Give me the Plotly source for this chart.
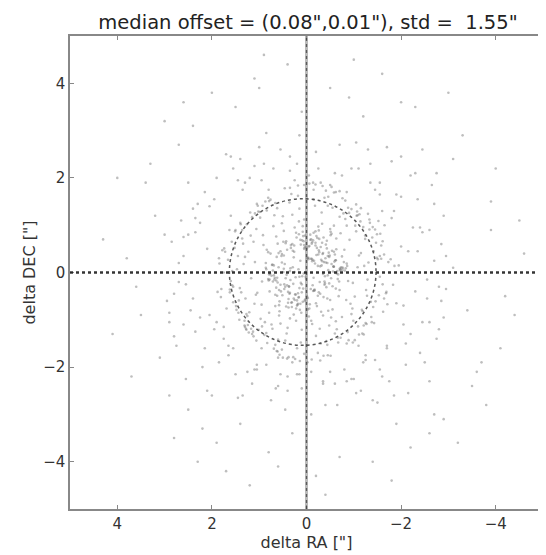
import plotly.graph_objects as go

# ---- data (read/estimated from the reference) ----
core_ra = [0.12,-0.35,0.48,-0.07,0.63,-0.52,0.21,-0.18,0.36,-0.71,
0.05,-0.42,0.77,-0.26,0.14,-0.61,0.44,-0.03,0.29,-0.88,
0.58,-0.15,0.02,-0.49,0.33,-0.22,0.69,-0.38,0.09,-0.56,
0.25,-0.11,0.81,-0.66,0.17,-0.31,0.52,-0.05,0.39,-0.75,
0.07,-0.45,0.62,-0.19,0.28,-0.57,0.13,-0.34,0.71,-0.09,
0.46,-0.27,0.03,-0.64,0.55,-0.13,0.22,-0.83,0.37,-0.41,
0.18,-0.02,0.67,-0.53,0.31,-0.24,0.84,-0.69,0.06,-0.36,
0.49,-0.16,0.26,-0.59,0.11,-0.47,0.74,-0.08,0.41,-0.29,
0.04,-0.72,0.57,-0.21,0.34,-0.51,0.15,-0.37,0.66,-0.12,
0.23,-0.63,0.43,-0.04,0.79,-0.44,0.08,-0.28,0.53,-0.77,
0.19,-0.33,0.61,-0.14,0.35,-0.54,0.01,-0.46,0.72,-0.23,
0.27,-0.68,0.47,-0.06,0.16,-0.39,0.86,-0.58,0.32,-0.17,
0.59,-0.43,0.1,-0.81,0.38,-0.25,0.64,-0.01,0.2,-0.62,
0.45,-0.32,0.03,-0.48,0.76,-0.2,0.3,-0.7,0.51,-0.1,
0.13,-0.55,0.68,-0.3,0.24,-0.4,0.42,-0.85,0.07,-0.19]
core_dec = [-0.22,0.41,0.08,-0.67,0.33,-0.12,0.74,0.19,-0.45,0.05,
0.58,-0.31,-0.03,0.47,-0.79,0.26,0.62,-0.54,0.11,-0.18,
-0.37,0.84,-0.09,0.36,0.52,-0.71,0.15,-0.26,0.68,0.02,
-0.58,0.29,0.43,-0.14,0.07,-0.83,0.21,0.55,-0.41,0.34,
0.77,-0.06,-0.49,0.63,-0.24,0.12,-0.66,0.39,0.04,-0.35,
0.18,0.71,-0.57,-0.02,0.45,0.27,-0.76,0.09,-0.29,0.59,
-0.44,0.31,-0.11,0.82,-0.63,0.14,0.48,-0.19,0.66,-0.52,
0.01,-0.38,0.57,0.23,-0.85,0.42,-0.07,0.69,-0.27,0.13,
0.53,0.06,-0.61,0.37,-0.16,0.79,-0.33,0.22,-0.47,0.64,
-0.1,0.49,-0.72,0.28,-0.04,-0.55,0.86,-0.2,0.35,0.1,
-0.68,0.24,0.61,-0.39,0.03,0.46,-0.13,-0.81,0.17,0.73,
0.32,-0.5,-0.25,0.56,0.81,-0.08,0.2,0.44,-0.64,-0.36,
0.11,0.67,-0.42,0.04,-0.74,0.38,-0.17,0.51,-0.59,0.26,
-0.3,0.15,0.78,-0.23,0.4,-0.65,0.6,0.08,-0.48,0.7,
0.25,-0.78,-0.15,0.54,-0.46,0.3,-0.05,0.19,-0.34,0.87]

core2_ra = [-0.04,0.27,-0.58,0.41,-0.13,0.66,-0.33,0.09,-0.79,0.52,
0.18,-0.46,0.35,-0.21,0.73,-0.62,0.02,-0.38,0.57,-0.09,
-0.27,0.44,-0.7,0.13,-0.5,0.85,-0.16,0.31,-0.43,0.61,
0.06,-0.86,0.48,-0.24,0.22,-0.55,0.78,-0.11,0.39,-0.65,
-0.19,0.54,-0.36,0.1,-0.74,0.29,-0.03,0.69,-0.48,0.16,
0.37,-0.14,0.62,-0.41,0.04,-0.6,0.25,-0.29,0.81,-0.08,
-0.53,0.2,-0.22,0.47,-0.67,0.12,-0.39,0.59,-0.01,0.34,
0.71,-0.31,0.08,-0.57,0.43,-0.17,0.26,-0.76,0.55,-0.06,
-0.45,0.15,-0.63,0.38,-0.12,0.8,-0.26,0.05,-0.51,0.64,
0.23,-0.72,0.33,-0.35,0.58,-0.02,0.17,-0.44,0.49,-0.15]
core2_dec = [0.31,-0.55,0.12,0.48,-0.27,-0.71,0.63,-0.08,0.22,0.39,
-0.66,0.05,-0.43,0.77,0.16,-0.34,0.54,-0.19,-0.82,0.29,
0.43,-0.12,-0.37,0.69,-0.58,0.07,0.25,-0.73,0.51,-0.21,
-0.02,0.14,0.36,-0.49,0.84,-0.29,-0.15,0.61,-0.64,0.03,
0.57,-0.4,0.74,-0.25,0.11,0.46,-0.78,-0.06,0.33,-0.52,
-0.3,0.68,-0.11,0.21,-0.6,0.38,0.01,-0.45,-0.14,0.8,
0.18,-0.7,0.52,-0.35,-0.04,0.59,-0.23,0.41,-0.5,0.09,
-0.19,0.27,-0.62,0.13,0.66,-0.38,0.44,0.06,-0.26,-0.76,
0.35,-0.09,0.72,-0.56,0.24,-0.17,-0.42,0.5,0.86,-0.32,
-0.47,0.1,0.58,-0.03,-0.69,0.3,-0.53,0.2,0.65,-0.11]

mid_ra = [1.12,-0.95,1.38,-1.24,0.88,-1.51,1.06,-0.82,1.45,-1.17,
0.3,-0.2,0.55,-0.45,1.29,-1.36,0.97,-1.05,1.6,-0.9,
-0.15,0.4,-0.6,0.7,1.18,-1.42,0.84,-1.28,1.52,-1.09,
0.12,-0.33,0.62,-0.75,1.33,-1.61,1.01,-0.93,1.21,-1.47,
0.25,-0.5,0.45,-0.1,1.41,-1.14,0.91,-1.31,1.66,-1.02,
-0.28,0.18,-0.72,0.58,1.07,-1.55,1.26,-0.87,1.49,-1.2,
0.05,-0.62,0.35,-0.38,1.15,-1.39,0.79,-1.07,1.57,-1.26,
0.68,-0.8,0.2,-0.05,1.34,-1.64,0.95,-0.99,1.24,-1.33,
-0.42,0.52,-0.25,0.85,1.09,-1.19,1.43,-0.91,1.02,-1.53,
0.15,-0.55,0.78,-0.66,1.27,-1.45,0.86,-1.11,1.62,-0.97,
0.42,-0.12,0.64,-0.85,1.19,-1.29,1.04,-1.41,1.36,-1.06,
-0.32,0.27,-0.48,0.74,1.47,-1.58,0.92,-0.84,1.13,-1.22,
0.08,-0.7,0.5,-0.3,1.31,-1.12,1.55,-1.37,0.89,-1.49,
0.6,-0.18,0.36,-0.58,1.1,-1.68,1.23,-1.03,1.4,-0.89,
-0.52,0.1,-0.35,0.66,1.28,-1.25,0.98,-1.56,1.17,-1.15,
0.22,-0.44,0.72,-0.78,1.5,-1.34,0.83,-0.98,1.3,-1.43,
0.48,-0.26,0.16,-0.64,1.05,-1.21,1.58,-1.08,0.94,-1.62]
mid_dec = [0.65,-0.88,-0.42,0.71,-1.05,0.28,0.92,1.13,0.35,-0.79,
1.22,-1.34,-1.08,1.41,-0.55,-0.62,-0.98,0.87,-0.18,1.26,
1.55,-1.17,-1.29,0.98,0.78,0.45,1.31,-0.49,0.52,-1.14,
-1.48,1.03,1.36,-0.94,0.18,-0.25,-1.21,-0.66,-0.84,0.63,
0.95,0.92,-1.44,-1.02,-0.33,1.08,0.58,0.21,0.27,-0.51,
-1.19,1.62,0.83,-0.91,-0.47,-0.09,1.02,-1.26,-0.71,0.96,
1.12,-1.03,-0.97,1.58,1.17,0.74,-0.85,1.29,0.03,-0.37,
1.21,0.48,-1.6,-0.93,0.61,0.38,-0.68,-1.02,-1.11,1.12,
-1.45,1.04,0.97,-1.28,0.22,-0.82,-0.59,0.69,1.29,-0.48,
1.35,1.37,-0.4,-1.38,-0.88,0.91,0.1,0.36,-0.42,-0.76,
-1.29,-1.09,0.76,0.99,1.27,-0.15,-0.43,-0.73,0.9,1.2,
1.27,-0.89,-1.12,-1.1,0.07,0.57,0.79,-0.58,-1.25,0.14,
0.98,1.18,1.19,-1.5,-1.02,1.23,-0.3,-0.94,-1.32,0.31,
-1.42,1.41,1.48,0.99,-0.66,-0.44,0.44,0.99,1.05,-1.43,
-0.95,-1.21,-0.91,1.47,-1.19,-1.07,1.16,0.82,-0.12,0.41,
-1.02,-1.53,-1.19,1.25,0.9,1.05,-1.49,-0.22,0.33,-1.07,
0.88,0.89,1.08,-1.2,1.45,-1.31,0.65,0.11,-0.19,-0.83]

mid2_ra = [1.25,-1.08,0.66,-1.55,1.72,-0.72,0.32,-1.33,1.48,-0.24,
-1.78,0.94,-0.46,1.36,-1.18,0.18,1.81,-0.88,0.52,-1.46,
1.03,-0.36,1.62,-1.69,0.81,-0.06,1.17,-1.24,0.41,-0.95,
-1.38,1.55,-0.58,0.99,-1.86,0.28,1.31,-0.76,1.74,-1.11,
0.61,-1.52,1.09,-0.14,1.44,-0.67,0.05,-1.73,0.76,-1.27,
1.69,-0.41,0.38,-1.02,1.22,-1.61,0.87,-0.29,1.57,-0.82,
-0.11,1.39,-1.4,0.69,-0.53,1.84,-1.15,0.24,-1.64,1.12,
0.46,-0.98,1.51,-1.83,0.14,-0.62,1.27,-1.21,0.93,-0.34,
1.78,-1.49,0.57,-0.19,1.06,-1.71,0.35,-1.05,1.63,-0.51,
-1.3,0.79,-0.85,1.42,-0.02,1.15,-1.58,0.63,-0.7,1.88]
mid2_dec = [-0.92,1.21,-1.53,0.35,0.44,-1.38,1.66,0.91,-0.79,-1.7,
0.28,-1.14,1.6,0.72,-1.29,1.84,-0.52,1.37,-1.63,-0.61,
1.41,-1.76,-0.36,-0.41,1.58,1.88,-1.19,0.78,-1.82,1.34,
-1.05,-0.63,1.69,1.28,0.14,-1.79,-1.12,1.57,0.51,-1.31,
-1.67,1.09,1.25,1.9,-0.85,-1.48,-1.72,0.22,1.54,-1.09,
-0.76,1.73,-1.79,-1.43,-1.27,0.66,1.5,-1.86,-0.27,1.52,
-1.84,1.02,0.96,-1.61,1.81,0.19,1.36,-1.83,-0.55,-1.35,
1.78,-1.48,0.87,-0.26,-1.87,1.7,-1.21,-1.12,1.41,1.83,
0.47,0.81,-1.74,1.86,-1.44,-0.67,1.79,1.44,0.9,-1.76,
1.24,1.51,-1.5,-1.0,-1.9,-1.3,0.29,-1.66,1.72,-0.41]

outer_ra = [2.1,-1.85,2.45,-2.3,1.3,-0.6,0.4,-1.2,2.7,-2.6,
1.75,-2.05,0.9,-0.2,1.6,-1.55,2.25,-2.8,0.1,-0.95,
2.55,-2.15,1.1,-1.7,0.55,-0.35,1.95,-2.45,2.85,-1.35,
1.4,-2.7,0.25,-1.05,2.35,-1.9,0.75,-0.5,1.85,-2.35,
2.95,-1.6,1.65,-2.9,0.15,-0.8,2.05,-2.2,1.2,-1.15,
2.3,-2.55,0.65,-0.1,1.5,-1.8,2.6,-2.95,0.35,-1.45,
1.9,-2.4,1.0,-0.7,2.8,-2.1,0.5,-1.3,2.15,-1.65,
2.65,-2.75,1.35,-0.4,1.75,-1.95,0.2,-1.0,2.4,-2.5,
1.15,-2.0,2.9,-1.4,0.8,-0.3,2.2,-2.65,1.55,-1.75,
2.0,-2.85,0.6,-1.55,1.45,-2.25,2.5,-1.1,0.05,-0.65,
2.75,-2.3,1.7,-1.25,0.3,-2.6,1.05,-0.85,2.35,-2.0,
1.8,-1.5,2.1,-2.45,0.95,-0.15,2.55,-1.85,1.3,-2.75,
0.45,-1.05,2.6,-2.15,1.6,-0.45,1.9,-2.9,0.85,-1.7]
outer_dec = [0.5,1.3,-0.8,-0.4,1.9,2.1,-2.2,-1.9,0.2,0.9,
-1.4,-1.1,2.3,2.55,1.2,1.65,1.05,-0.3,-2.45,2.2,
-0.25,0.45,-2.05,-1.6,2.6,-2.35,1.55,-1.05,0.65,2.3,
2.4,1.45,1.95,-2.55,-1.25,-0.65,-2.7,1.85,-1.9,1.55,
-0.6,-2.2,-1.75,-0.95,2.9,-2.05,-0.9,2.05,2.0,-2.5,
1.45,-0.15,-2.45,-2.1,-2.15,2.35,-1.1,0.35,2.15,-1.85,
2.0,-1.7,2.65,2.7,-1.35,-1.95,-1.8,2.6,-1.6,1.0,
1.1,-1.4,-2.6,-2.8,0.0,0.15,-2.15,-2.25,-0.55,-1.9,
-2.35,2.45,-1.05,-2.7,1.75,1.9,-2.0,1.85,2.2,-2.3,
-2.6,-0.6,-1.8,1.9,-2.65,0.95,1.9,-1.55,1.85,-2.8,
-1.55,2.1,2.5,-1.75,-1.9,-2.3,-1.95,1.7,0.85,0.55,
-0.35,-2.75,-2.5,2.6,-1.6,1.75,-2.25,-2.6,-1.15,2.1,
-2.9,2.75,0.75,-2.55,2.45,-1.75,-1.05,1.2,2.95,2.65]

outer2_ra = [2.25,-2.05,1.35,-0.75,0.85,-1.6,2.6,-2.4,1.95,-1.25,
-0.25,0.55,-2.7,2.8,-1.9,1.55,-0.5,0.2,-2.2,2.35,
1.05,-1.45,2.05,-2.55,0.7,-0.95,1.75,-2.85,2.5,-1.8,
-0.35,0.35,-1.1,1.25,-2.35,2.7,-1.55,0.95,-2.95,1.85,
2.15,-2.6,0.6,-0.6,1.45,-1.35,2.9,-2.1,0.15,-0.05,
-1.7,1.65,-2.45,2.4,-0.85,1.1,-3.1,3.0,-2.0,0.4]
outer2_dec = [-0.95,-0.7,1.75,2.05,-1.95,1.3,0.35,0.95,-1.2,-1.85,
2.2,-2.15,0.25,-0.45,1.65,-1.6,-2.1,2.3,-1.3,1.15,
-2.05,1.75,1.4,-0.55,2.2,-2.25,-1.15,0.6,0.8,1.15,
-2.3,2.45,2.2,-2.1,0.45,-0.2,-2.05,1.95,-0.35,0.3,
1.7,-1.05,-2.4,-2.35,1.95,1.9,-0.85,-1.5,-2.15,2.05,
-1.55,-1.55,0.85,1.35,-2.3,2.25,0.1,0.8,1.6,-2.5]

far_ra = [3.2,-3.4,1.5,-1.2,0.3,-0.5,3.6,-3.9,2.4,-2.7,
2.9,-3.1,0.8,-1.9,3.4,-4.2,1.1,-0.2,2.2,-3.6,
3.8,-2.9,-0.9,1.9,2.7,-4.5,0.1,-2.3,3.1,-3.3,
4.1,-3.7,1.4,-1.6,2.5,-4.0,0.6,-2.6,3.3,-3.0,
2.0,-4.4,-0.7,1.0,3.5,-2.2,0.4,-1.4,2.8,-3.8,
4.3,-4.6,1.7,-2.0,3.0,-3.5,-0.1,-1.0,2.6,-4.1,
3.7,-3.2,0.9,-2.8,1.2,-3.9,2.3,-1.8,-0.4,4.0]
far_dec = [1.2,-0.8,3.5,3.3,-3.4,3.9,-0.3,1.5,3.1,-3.0,
-2.6,2.4,-3.8,-3.2,1.9,-0.5,4.1,-4.3,-3.3,-2.1,
0.3,-3.1,3.7,-3.6,2.7,1.1,3.4,3.5,-1.8,2.9,
-1.3,-1.9,-3.2,4.2,-2.9,2.2,-4.1,-3.4,2.3,3.8,
3.8,-0.9,-3.9,3.9,-0.9,-3.7,4.4,-4.0,-3.5,-2.8,
0.7,0.4,-4.2,3.6,3.2,-2.4,-3.0,4.5,3.6,-1.6,
-2.2,-3.6,4.6,-1.2,-4.5,0.9,-4.0,-4.4,-4.7,2.0]

median_ra = 0.08
median_dec = 0.01
std_radius = 1.55
x_ticks = [4, 2, 0, -2, -4]
y_ticks = [-4, -2, 0, 2, 4]
axis_range = [-5, 5]

ra = core_ra + core2_ra + mid_ra + mid2_ra + outer_ra + outer2_ra + far_ra
dec = core_dec + core2_dec + mid_dec + mid2_dec + outer_dec + outer2_dec + far_dec
n = min(len(ra), len(dec))
ra, dec = ra[:n], dec[:n]

FONT = "DejaVu Sans"

fig = go.Figure()
fig.add_trace(go.Scatter(
    x=ra, y=dec, mode="markers",
    marker=dict(size=2.6, color="rgba(110,110,110,0.45)", line=dict(width=0)),
    hoverinfo="skip", showlegend=False,
))

shapes = [
    # vertical gray band + dotted line at RA = 0
    dict(type="line", xref="x", yref="y", x0=0, x1=0, y0=axis_range[0], y1=axis_range[1],
         line=dict(color="rgba(130,130,130,0.55)", width=3)),
    dict(type="line", xref="x", yref="y", x0=0, x1=0, y0=axis_range[0], y1=axis_range[1],
         line=dict(color="rgba(50,50,50,0.7)", width=1.3, dash="dot")),
    # horizontal dotted line at DEC = 0
    dict(type="line", xref="x", yref="y", x0=axis_range[1], x1=axis_range[0], y0=0, y1=0,
         line=dict(color="rgba(30,30,30,0.9)", width=2.5, dash="dot")),
    # std circle
    dict(type="circle", xref="x", yref="y",
         x0=median_ra - std_radius, x1=median_ra + std_radius,
         y0=median_dec - std_radius, y1=median_dec + std_radius,
         line=dict(color="rgba(60,60,60,0.85)", width=1.5, dash="dot")),
]

title_text = 'median offset = (%.2f",%.2f"), std =\u00a0 %.2f"' % (median_ra, median_dec, std_radius)

W, H = 538, 547
fig.update_layout(
    width=W, height=H,
    margin=dict(l=62, r=3, t=28, b=46),
    paper_bgcolor="white", plot_bgcolor="white",
    shapes=shapes,
    title=dict(text=title_text, x=300 / W, xanchor="center", y=1 - 14.5 / H, yanchor="middle",
               font=dict(family=FONT, size=19.5, color="#222")),
    font=dict(family=FONT, size=15, color="#333"),
)
fig.update_xaxes(
    range=[axis_range[1], axis_range[0]], tickvals=x_ticks, automargin=False,
    showgrid=False, zeroline=False,
    showline=True, linecolor="#888", linewidth=1.5, mirror="allticks",
    ticks="inside", ticklen=4, tickcolor="#888", tickwidth=1,
    tickfont=dict(family=FONT, size=15, color="#333"),
    title=dict(text='delta RA ["]', font=dict(family=FONT, size=16, color="#333"), standoff=2),
)
fig.update_yaxes(
    range=axis_range, tickvals=y_ticks, automargin=False,
    showgrid=False, zeroline=False,
    showline=True, linecolor="#888", linewidth=1.5, mirror="allticks",
    ticks="inside", ticklen=4, tickcolor="#888", tickwidth=1,
    tickfont=dict(family=FONT, size=15, color="#333"),
    title=dict(text='delta DEC ["]', font=dict(family=FONT, size=16, color="#333"), standoff=4),
)

fig.write_html("out.html")
